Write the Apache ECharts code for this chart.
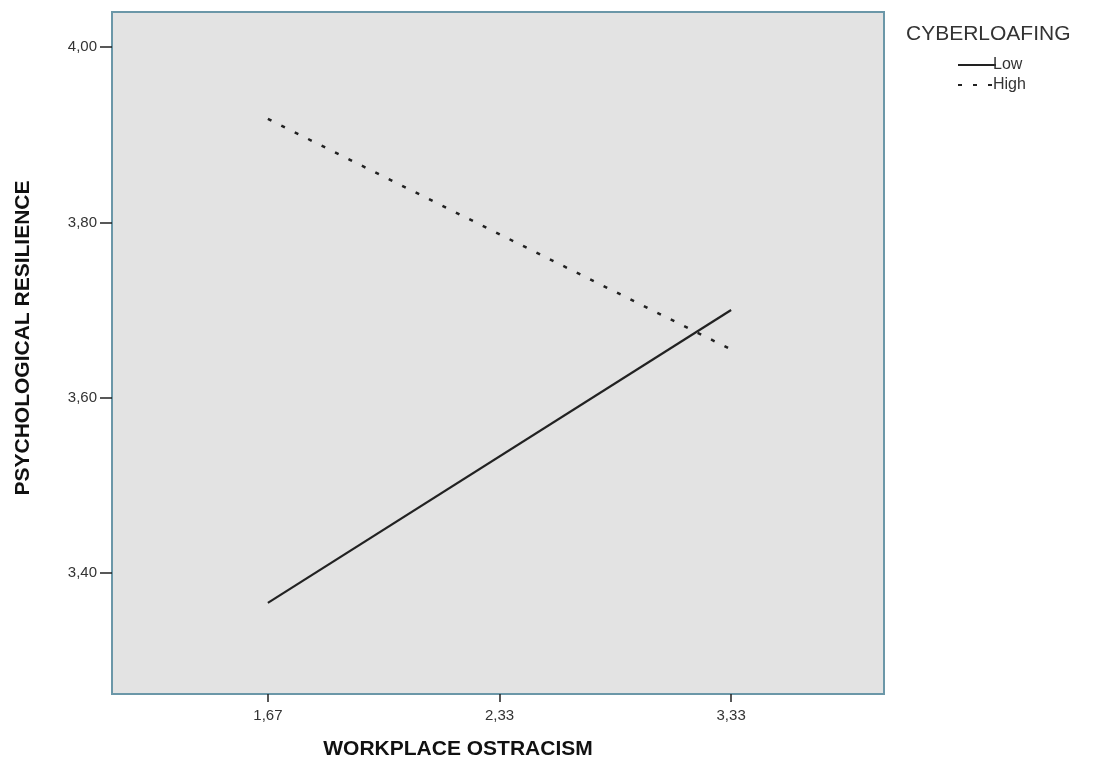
<!DOCTYPE html>
<html>
<head>
<meta charset="utf-8">
<script src="https://cdn.jsdelivr.net/npm/echarts@6/dist/echarts.min.js"></script>
<style>
  html, body { margin: 0; padding: 0; background: #fff; }
  #main { width: 1096px; height: 763px; }
</style>
</head>
<body>
<div id="main"></div>
<script>
// x positions are category slots 0,1,2 (SPSS spaces them evenly)
const xLabels = ['1,67', '2,33', '3,33'];
const xPos = [0, 1, 2];
const yTicks = [3.4, 3.6, 3.8, 4.0];
const lowValues = [3.366, 3.700];
const highValues = [3.918, 3.655];
const endPos = [0, 2];

const toPoints = (vals) => vals.map((v, i) => [endPos[i], v]);

let myChart = echarts.init(document.getElementById('main'));

let options = {
    animation: false,
    textStyle: { fontFamily: 'Liberation Sans, Arial, sans-serif' },
    title: {
        text: 'CYBERLOAFING',
        left: 901, top: 19,
        textStyle: { fontSize: 21, fontWeight: 'normal', color: '#333' }
    },
    legend: {
        orient: 'vertical',
        left: 952, top: 52,
        itemWidth: 38, itemHeight: 14, itemGap: 4,
        itemStyle: { opacity: 0 },
        textStyle: { fontSize: 16, color: '#333', padding: [0, 0, 0, -8] },
        data: ['Low', 'High']
    },
    grid: {
        left: 112, top: 12, right: 212, bottom: 69,
        outerBoundsMode: 'none',
        show: true,
        backgroundColor: '#e3e3e3',
        borderColor: '#6b97a8',
        borderWidth: 2
    },
    xAxis: {
        type: 'value',
        min: -0.673, max: 2.66,
        name: 'WORKPLACE OSTRACISM',
        nameLocation: 'middle',
        nameGap: 45,
        nameTextStyle: { fontSize: 21, fontWeight: 'bold', color: '#111', padding: [0, 80, 0, 0] },
        axisLine: { onZero: false, lineStyle: { color: '#6b97a8', width: 2 } },
        axisTick: { customValues: xPos, length: 8, lineStyle: { color: '#222', width: 1.5 } },
        axisLabel: {
            customValues: xPos,
            formatter: (v) => xLabels[Math.round(v)],
            fontSize: 15, color: '#333', margin: 14
        },
        splitLine: { show: false }
    },
    yAxis: {
        type: 'value',
        min: 3.262, max: 4.04,
        name: 'PSYCHOLOGICAL RESILIENCE',
        nameLocation: 'middle',
        nameGap: 78,
        nameTextStyle: { fontSize: 21, fontWeight: 'bold', color: '#111', padding: [0, 0, 0, 30] },
        axisLine: { show: true, onZero: false, lineStyle: { color: '#6b97a8', width: 2 } },
        axisTick: { show: true, customValues: yTicks, length: 12, lineStyle: { color: '#222', width: 1.5 } },
        axisLabel: {
            customValues: yTicks,
            formatter: (v) => v.toFixed(2).replace('.', ','),
            fontSize: 15, color: '#333', margin: 15
        },
        splitLine: { show: false }
    },
    series: [{
        name: 'Low',
        type: 'line',
        symbol: 'none',
        data: toPoints(lowValues),
        lineStyle: { color: '#222', width: 2.2, type: 'solid' },
        itemStyle: { color: '#222' }
    }, {
        name: 'High',
        type: 'line',
        symbol: 'none',
        data: toPoints(highValues),
        lineStyle: { color: '#222', width: 2.5, type: [4, 11] },
        itemStyle: { color: '#222' }
    }]
};

myChart.setOption(options);
</script>
</body>
</html>
